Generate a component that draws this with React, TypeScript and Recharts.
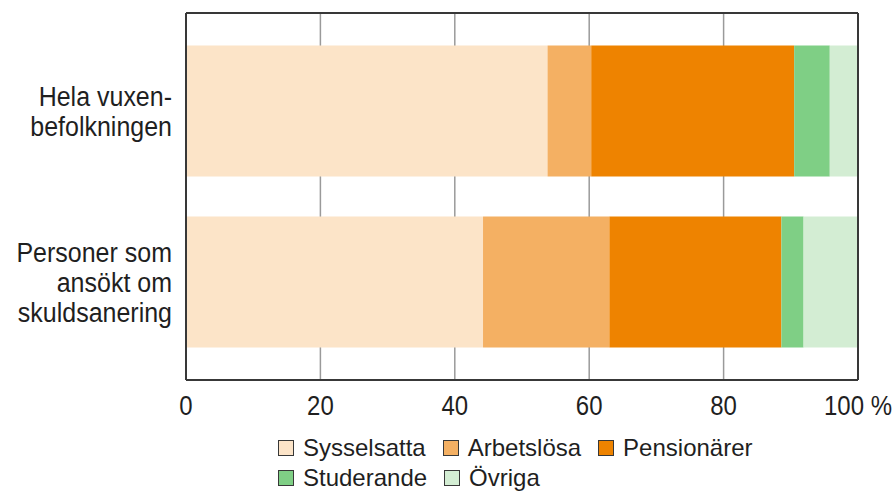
import React from "react";
import { BarChart, Bar, XAxis, YAxis, CartesianGrid, Legend } from "recharts";

const categories = ["Hela vuxen-\nbefolkningen", "Personer som\nansökt om\nskuldsanering"];
const sysselsatta = [53.8, 44.2];
const arbetslosa = [6.5, 18.8];
const pensionarer = [30.2, 25.6];
const studerande = [5.3, 3.3];
const ovriga = [4.2, 8.1];
const xTicks = [0, 20, 40, 60, 80, 100];

const seriesNames = ["Sysselsatta", "Arbetslösa", "Pensionärer", "Studerande", "Övriga"];
const seriesKeys = ["sysselsatta", "arbetslosa", "pensionarer", "studerande", "ovriga"];
const seriesColors = ["#FCE4C8", "#F4B063", "#EE8300", "#7FCF85", "#D3EDD3"];
const seriesValues = [sysselsatta, arbetslosa, pensionarer, studerande, ovriga];

const data = categories.map((name, i) => {
  const row: Record<string, any> = { name };
  seriesKeys.forEach((k, j) => {
    row[k] = seriesValues[j][i];
  });
  return row;
});

const FONT = "'Liberation Sans', Arial, sans-serif";
const TEXT = "#1f1f1f";
const BORDER = "#383838";

const YTick = (props: any) => {
  const { x, y, payload } = props;
  const lines = String(payload.value).split("\n");
  const lh = 30;
  const s = 1.12;
  const first = -((lines.length - 1) * lh) / 2 + 10;
  return (
    <g>
      {lines.map((l, i) => (
        <text
          key={i}
          transform={`translate(${x},${y + first + i * lh}) scale(1,${s})`}
          x={0}
          y={0}
          textAnchor="end"
          fontSize={25}
          fontFamily={FONT}
          fill={TEXT}
        >
          {l}
        </text>
      ))}
    </g>
  );
};

const XTick = (props: any) => {
  const { x, y, payload } = props;
  const label = payload.value === 100 ? "100 %" : String(payload.value);
  return (
    <text
      transform={`translate(${x},${y}) scale(1,1.15)`}
      x={0}
      y={0}
      textAnchor="middle"
      fontSize={24}
      fontFamily={FONT}
      fill={TEXT}
    >
      {label}
    </text>
  );
};

const LegendBox = () => (
  <div
    style={{
      display: "flex",
      flexWrap: "wrap",
      width: 520,
      fontFamily: FONT,
      fontSize: 24,
      color: TEXT,
      lineHeight: "30px",
    }}
  >
    {seriesNames.map((n, i) => (
      <div key={n} style={{ display: "flex", alignItems: "center", marginRight: 17, height: 30 }}>
        <span
          style={{
            display: "inline-block",
            width: 14,
            height: 14,
            background: seriesColors[i],
            border: `1.5px solid ${BORDER}`,
            marginRight: 9,
          }}
        />
        <span>{n}</span>
      </div>
    ))}
  </div>
);

export default function App() {
  return (
    <div style={{ position: "absolute", left: 0, top: 0, width: 896, height: 493, background: "#fff" }}>
      <BarChart
        width={896}
        height={493}
        data={data}
        layout="vertical"
        margin={{ top: 12, right: 37, bottom: 83, left: 0 }}
      >
        <CartesianGrid horizontal={false} stroke="#9a9a9a" strokeWidth={1.5} />
        <XAxis
          type="number"
          domain={[0, 100]}
          ticks={xTicks}
          height={30}
          tickSize={0}
          tickMargin={35}
          tick={<XTick />}
          axisLine={{ stroke: BORDER, strokeWidth: 2 }}
          tickLine={false}
          interval={0}
        />
        <XAxis
          xAxisId="top"
          orientation="top"
          type="number"
          domain={[0, 100]}
          ticks={xTicks}
          height={1}
          tickSize={0}
          tick={false}
          tickLine={false}
          axisLine={{ stroke: BORDER, strokeWidth: 2 }}
        />
        <YAxis
          type="category"
          dataKey="name"
          width={186}
          tickSize={0}
          tickMargin={14}
          tick={<YTick />}
          tickLine={false}
          axisLine={{ stroke: BORDER, strokeWidth: 2 }}
          padding={{ top: 12.5, bottom: 12.5 }}
          interval={0}
        />
        <YAxis
          yAxisId="right"
          orientation="right"
          type="category"
          dataKey="name"
          width={1}
          tickSize={0}
          tick={false}
          tickLine={false}
          axisLine={{ stroke: BORDER, strokeWidth: 2 }}
        />
        {seriesKeys.map((k, i) => (
          <Bar
            key={k}
            dataKey={k}
            name={seriesNames[i]}
            stackId="a"
            fill={seriesColors[i]}
            barSize={131}
            isAnimationActive={false}
          />
        ))}
        <Legend
          layout="horizontal"
          verticalAlign="middle"
          align="center"
          wrapperStyle={{ left: 278, top: 433, width: 540, height: 60 }}
          content={() => <LegendBox />}
        />
      </BarChart>
    </div>
  );
}
